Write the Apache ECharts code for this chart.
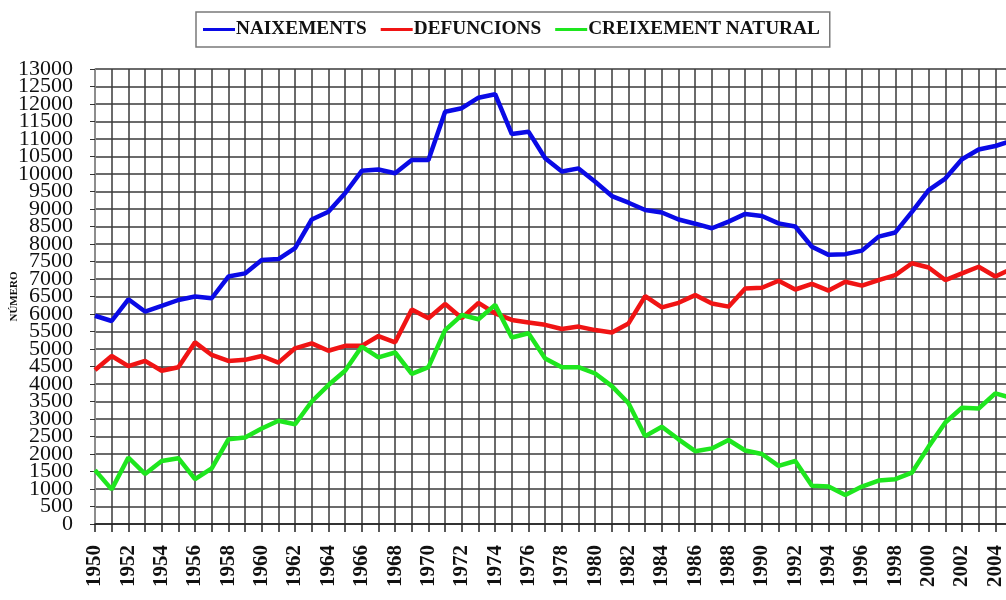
<!DOCTYPE html>
<html>
<head>
<meta charset="utf-8">
<title>Naixements, defuncions i creixement natural</title>
<script src="https://cdn.jsdelivr.net/npm/echarts@6/dist/echarts.min.js"></script>
<style>
  html, body { margin: 0; padding: 0; background: #fff; }
  #chart { width: 1006px; height: 600px; }
</style>
</head>
<body>
<div id="chart"></div>
<script>
const years = [
  "1950", "1951", "1952", "1953", "1954", "1955", "1956", "1957", "1958", "1959",
  "1960", "1961", "1962", "1963", "1964", "1965", "1966", "1967", "1968", "1969",
  "1970", "1971", "1972", "1973", "1974", "1975", "1976", "1977", "1978", "1979",
  "1980", "1981", "1982", "1983", "1984", "1985", "1986", "1987", "1988", "1989",
  "1990", "1991", "1992", "1993", "1994", "1995", "1996", "1997", "1998", "1999",
  "2000", "2001", "2002", "2003", "2004", "2005"
];

// y tick labels, every 500 from 0 to 13000
const yTickLabels = [
  "0", "500", "1000", "1500", "2000", "2500", "3000", "3500", "4000",
  "4500", "5000", "5500", "6000", "6500", "7000", "7500", "8000", "8500",
  "9000", "9500", "10000", "10500", "11000", "11500", "12000", "12500", "13000"
];

const naixements = [
  5950, 5800, 6420, 6070, 6230, 6400, 6500, 6450, 7070, 7160,
  7540, 7570, 7880, 8700, 8920, 9450, 10090, 10130, 10020, 10400,
  10400, 11780, 11880, 12180, 12280, 11140, 11210, 10450, 10070, 10160,
  9780, 9370, 9180, 8970, 8900, 8700, 8580, 8450, 8640, 8860,
  8800, 8590, 8500, 7920, 7690, 7710, 7810, 8210, 8330, 8920,
  9540, 9870, 10420, 10700, 10800, 10950
];

const defuncions = [
  4400, 4800, 4510, 4660, 4380, 4480, 5190, 4830, 4660, 4690,
  4800, 4610, 5020, 5160, 4950, 5090, 5090, 5370, 5190, 6130,
  5880, 6290, 5880, 6320, 6020, 5830, 5760, 5690, 5570, 5640,
  5540, 5470, 5730, 6510, 6190, 6320, 6540, 6300, 6210, 6730,
  6750, 6950, 6700, 6860, 6670, 6920, 6810, 6970, 7110, 7450,
  7330, 6970, 7160, 7350, 7070, 7300
];

const creixement = [
  1540, 990, 1900, 1430, 1800, 1880, 1280, 1590, 2420, 2470,
  2730, 2950, 2850, 3500, 3970, 4380, 5070, 4760, 4900, 4290,
  4480, 5540, 5970, 5850, 6260, 5330, 5450, 4730, 4480, 4480,
  4300, 3940, 3450, 2510, 2780, 2420, 2080, 2160, 2400, 2100,
  2000, 1660, 1800, 1090, 1070, 830, 1070, 1240, 1280, 1470,
  2210, 2900, 3320, 3300, 3730, 3600
];

const seriesNames = ["NAIXEMENTS", "DEFUNCIONS", "CREIXEMENT NATURAL"];
const seriesColors = ["#0a0ae6", "#f01414", "#1ee61e"];

const chart = echarts.init(document.getElementById("chart"), null, { renderer: "canvas" });

chart.setOption({
  animation: false,
  backgroundColor: "#fff",
  textStyle: { fontFamily: "Liberation Serif", color: "#000" },
  legend: {
    top: 12,
    left: 196,
    padding: [8, 10, 8, 7],
    borderColor: "#7a7a7a",
    borderWidth: 1.5,
    itemWidth: 32,
    itemHeight: 3,
    itemGap: 14,
    icon: "rect",
    textStyle: { fontFamily: "Liberation Serif", fontSize: 19.3, fontWeight: "bold", color: "#111", padding: [0, 0, 0, -4] },
    data: seriesNames
  },
  grid: { left: 95, right: -6, top: 69, bottom: 76, outerBoundsMode: "none" },
  xAxis: {
    type: "category",
    data: years,
    boundaryGap: false,
    axisLine: { lineStyle: { color: "#222", width: 1.5 } },
    axisTick: { interval: 0, length: 8, lineStyle: { color: "#222", width: 1.5 } },
    axisLabel: {
      interval: 1,
      rotate: 90,
      margin: 21,
      fontFamily: "Liberation Serif",
      fontSize: 21,
      fontWeight: "bold",
      color: "#111"
    },
    splitLine: { show: true, interval: 0, lineStyle: { color: "#3a3a3a", width: 1.5 } }
  },
  yAxis: [
    {
      type: "value",
      min: 0,
      max: 13000,
      interval: 500,
      name: "NÚMERO",
      nameLocation: "middle",
      nameRotate: 90,
      nameGap: 75,
      nameMoveOverlap: false,
      nameTextStyle: { fontFamily: "Liberation Serif", fontSize: 11, fontWeight: "bold", color: "#111" },
      axisLine: { show: true, lineStyle: { color: "#999", width: 1.5 } },
      axisTick: { show: true, length: 5, lineStyle: { color: "#333" } },
      axisLabel: { show: false },
      splitLine: { lineStyle: { color: "#3a3a3a", width: 1.5 } }
    },
    {
      // label-only axis so that every tick label stays visible, as in the source
      type: "category",
      position: "left",
      data: yTickLabels,
      boundaryGap: false,
      axisLine: { show: false },
      axisTick: { show: false },
      splitLine: { show: false },
      axisLabel: {
        interval: 0,
        margin: 22,
        fontFamily: "Liberation Serif",
        fontSize: 22,
        color: "#111"
      }
    }
  ],
  series: [
    { name: seriesNames[0], type: "line", yAxisIndex: 0, data: naixements, symbol: "none", lineStyle: { width: 4.5, color: seriesColors[0] }, itemStyle: { color: seriesColors[0] } },
    { name: seriesNames[1], type: "line", yAxisIndex: 0, data: defuncions, symbol: "none", lineStyle: { width: 4.5, color: seriesColors[1] }, itemStyle: { color: seriesColors[1] } },
    { name: seriesNames[2], type: "line", yAxisIndex: 0, data: creixement, symbol: "none", lineStyle: { width: 4.5, color: seriesColors[2] }, itemStyle: { color: seriesColors[2] } }
  ]
});
</script>
</body>
</html>
